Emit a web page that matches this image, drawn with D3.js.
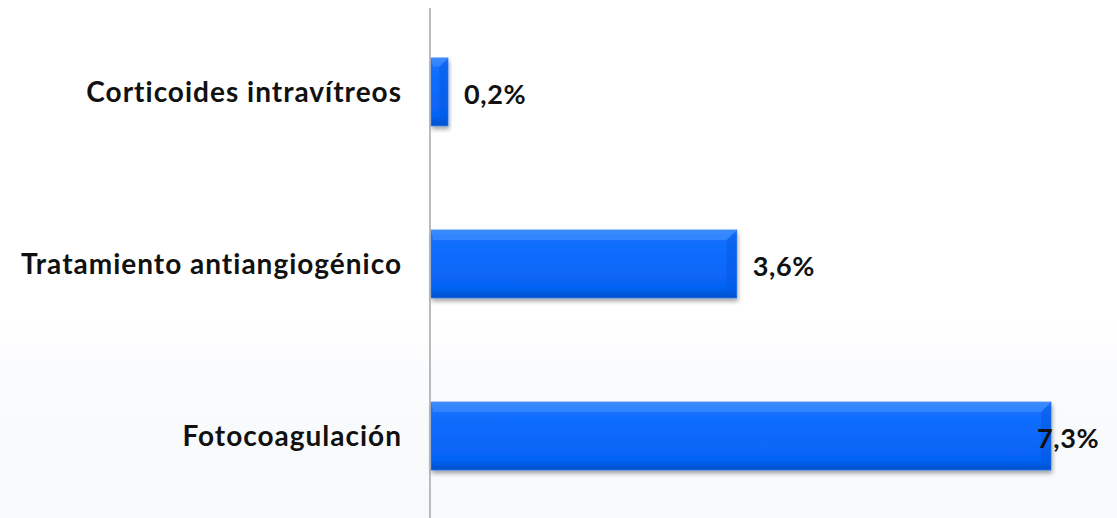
<!DOCTYPE html>
<html>
<head>
<meta charset="utf-8">
<script src="https://cdn.jsdelivr.net/npm/d3@7"></script>
<style>
  html, body { margin: 0; padding: 0; background: #fff; }
  svg { display: block; }
  text { font-family: Lato, "Open Sans", sans-serif; font-weight: 700; fill: #111; }
</style>
</head>
<body>
<script>
// data
const categories = ["Corticoides intravítreos", "Tratamiento antiangiogénico", "Fotocoagulación"];
const values = [0.2, 3.6, 7.3];
const valueLabels = ["0,2%", "3,6%", "7,3%"];

const width = 1117, height = 518;
const axisX = 430;

const svg = d3.select("body").append("svg")
  .attr("width", width)
  .attr("height", height);

const defs = svg.append("defs");

// soft background fade in the lower part
const bg = defs.append("linearGradient")
  .attr("id", "bg").attr("x1", 0).attr("y1", 0).attr("x2", 0).attr("y2", 1);
bg.append("stop").attr("offset", "0").attr("stop-color", "#ffffff");
bg.append("stop").attr("offset", "0.62").attr("stop-color", "#ffffff");
bg.append("stop").attr("offset", "0.72").attr("stop-color", "#fafbfd");
bg.append("stop").attr("offset", "1").attr("stop-color", "#f7f9fb");

const barGrad = defs.append("linearGradient")
  .attr("id", "bar").attr("x1", 0).attr("y1", 0).attr("x2", 0).attr("y2", 1);
barGrad.append("stop").attr("offset", "0").attr("stop-color", "#4d94ff");
barGrad.append("stop").attr("offset", "0.08").attr("stop-color", "#1470ff");
barGrad.append("stop").attr("offset", "0.85").attr("stop-color", "#0563f5");
barGrad.append("stop").attr("offset", "1").attr("stop-color", "#0450c8");

const shadow = defs.append("filter").attr("id", "shadow")
  .attr("x", "-10%").attr("y", "-10%").attr("width", "130%").attr("height", "140%");
shadow.append("feDropShadow")
  .attr("dx", 1).attr("dy", 3).attr("stdDeviation", 2)
  .attr("flood-color", "#000").attr("flood-opacity", 0.35);

svg.append("rect")
  .attr("width", width).attr("height", height)
  .attr("fill", "url(#bg)");

const x = d3.scaleLinear()
  .domain([0, 7.3])
  .range([axisX + 1, 1051]);

const y = d3.scaleBand()
  .domain(categories)
  .range([6, 522])
  .paddingInner(0.605)
  .paddingOuter(0.302);

const rows = categories.map((c, i) => ({ cat: c, value: values[i], label: valueLabels[i] }));

const bars = svg.append("g").selectAll("g")
  .data(rows)
  .join("g");

bars.append("rect")
  .attr("x", x(0))
  .attr("y", d => y(d.cat))
  .attr("width", d => x(d.value) - x(0))
  .attr("height", y.bandwidth())
  .attr("fill", "url(#bar)")
  .attr("stroke", "#2a78f0")
  .attr("stroke-width", 0.8)
  .attr("filter", "url(#shadow)");

// bevel on the right end
bars.append("path")
  .attr("d", d => {
    const x1 = x(d.value), y0 = y(d.cat), y1 = y0 + y.bandwidth();
    const b = Math.min(10, (x1 - x(0)) / 2);
    return `M${x1},${y0} L${x1 - b},${y0 + b} L${x1 - b},${y1 - b} L${x1},${y1} Z`;
  })
  .attr("fill", "#0356dc")
  .attr("opacity", 0.4);

// bevel on the top edge
bars.append("path")
  .attr("d", d => {
    const x0 = x(0), x1 = x(d.value), y0 = y(d.cat);
    const b = Math.min(10, (x1 - x0) / 2);
    return `M${x0},${y0} L${x1},${y0} L${x1 - b},${y0 + b} L${x0 + 2},${y0 + b} Z`;
  })
  .attr("fill", "#3b8bff")
  .attr("opacity", 0.8);

// axis line
svg.append("line")
  .attr("x1", axisX).attr("x2", axisX)
  .attr("y1", 8).attr("y2", height)
  .attr("stroke", "#a6a6a6")
  .attr("stroke-width", 1.5);

// category labels
svg.append("g").selectAll("text")
  .data(categories)
  .join("text")
  .attr("x", 402)
  .attr("y", d => y(d) + y.bandwidth() / 2 + 10)
  .attr("text-anchor", "end")
  .attr("font-size", 28)
  .attr("letter-spacing", 1)
  .text(d => d);

// value labels
svg.append("g").selectAll("text")
  .data(rows)
  .join("text")
  .attr("x", d => Math.min(x(d.value) + 16, 1037))
  .attr("y", d => y(d.cat) + y.bandwidth() / 2 + 12)
  .attr("font-size", 27)
  .attr("letter-spacing", 0.6)
  .text(d => d.label);
</script>
</body>
</html>
